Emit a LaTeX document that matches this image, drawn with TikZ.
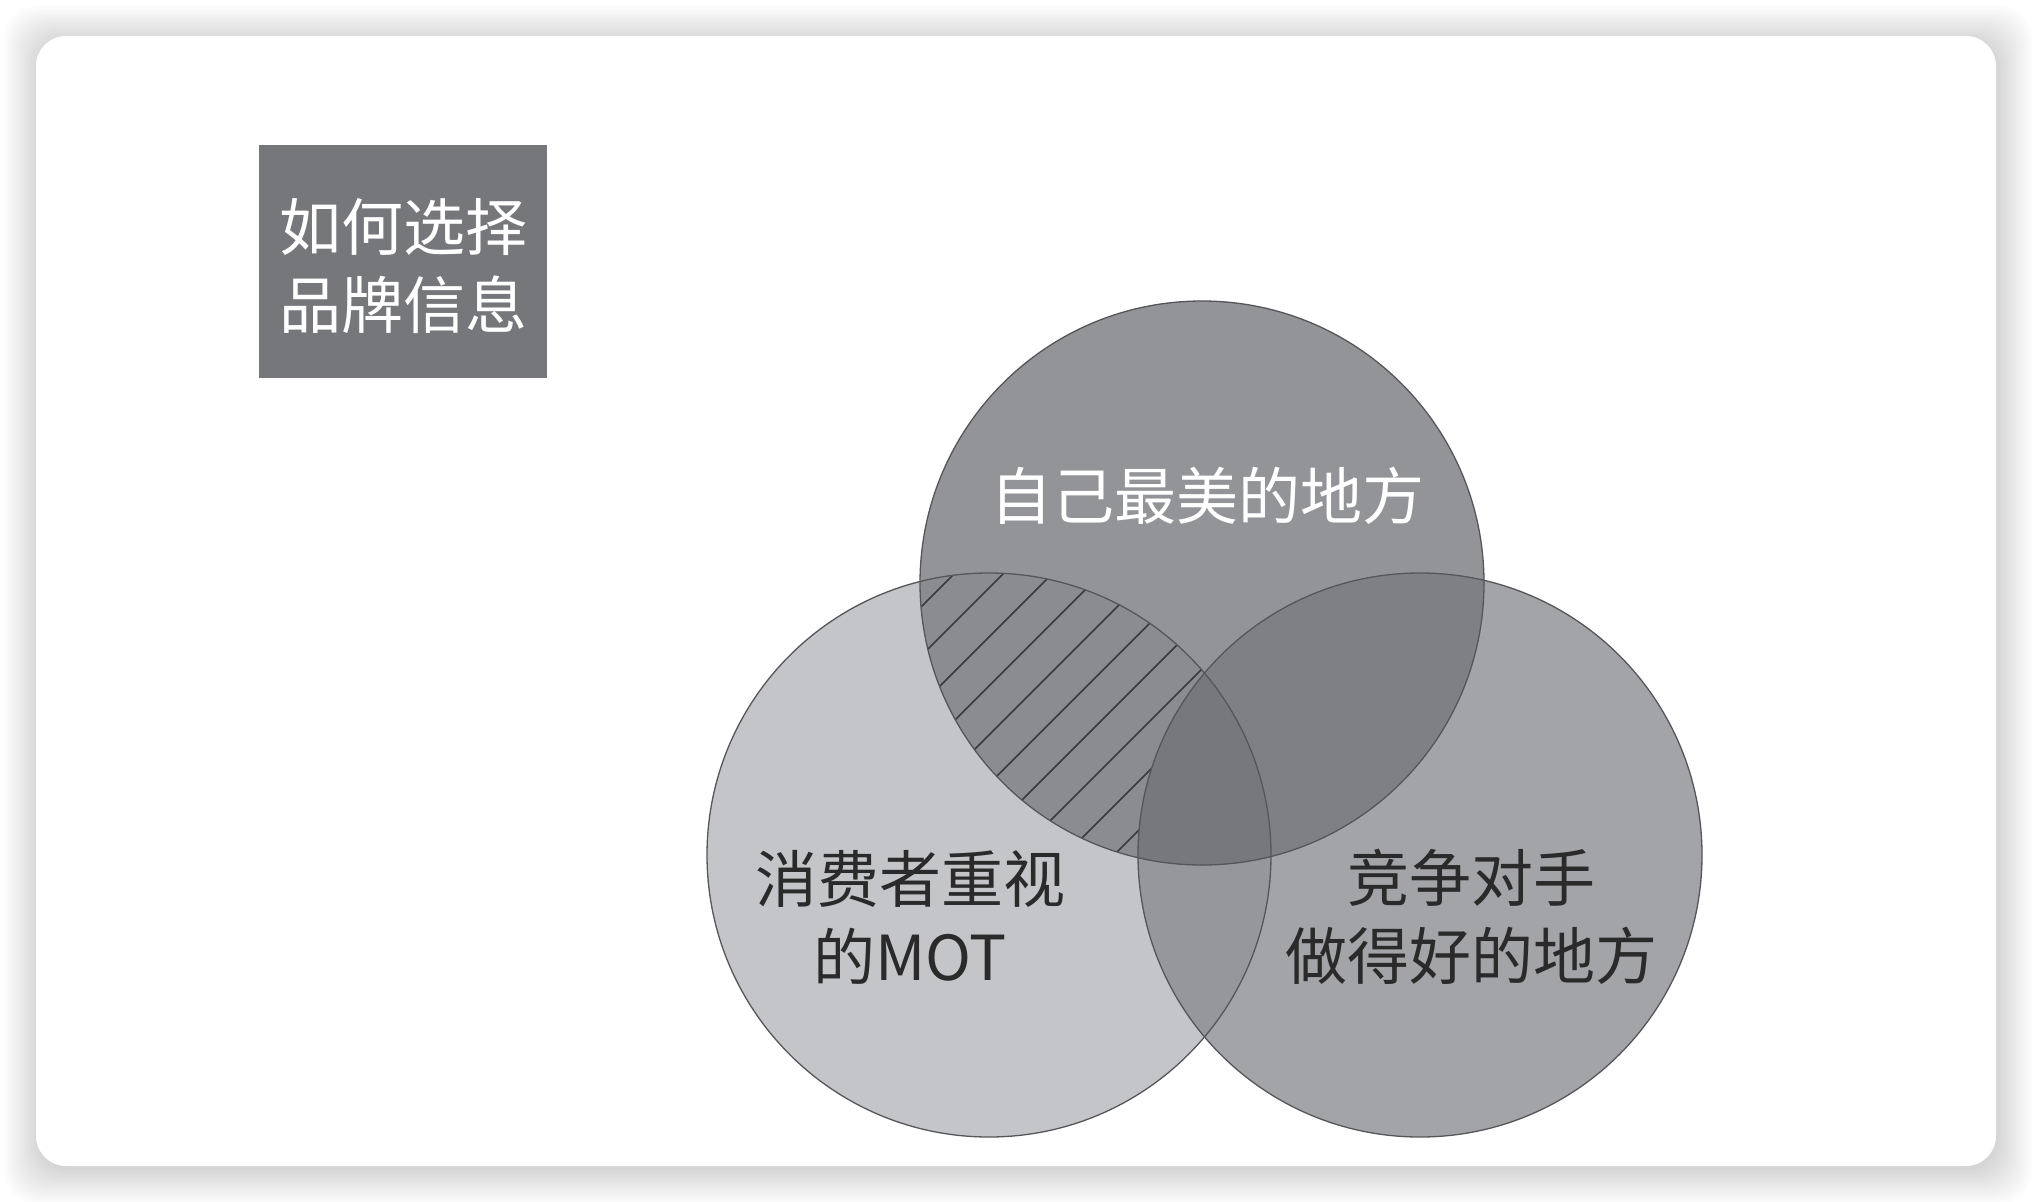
\documentclass[tikz,border=0pt]{standalone}
\usepackage{fontspec}
\newfontfamily\cjk{Noto Sans CJK SC}
\definecolor{cL}{HTML}{C3C5C8}
\definecolor{cR}{HTML}{A3A4A8}
\definecolor{cT}{HTML}{939498}
\definecolor{cLR}{HTML}{96979B}
\definecolor{cTR}{HTML}{7F8084}
\definecolor{cTL}{HTML}{8B8C90}
\definecolor{cTLR}{HTML}{77787C}
\definecolor{boxc}{HTML}{76777B}
\definecolor{hatchc}{HTML}{3A3A3C}
\definecolor{outc}{HTML}{55565A}
\definecolor{darktxt}{HTML}{2A2A2A}
\tikzset{
  hatchline/.style={draw=hatchc, line width=1.6pt},
  outline/.style={draw=outc, line width=1.3pt},
  wtxt/.style={text=white, font=\cjk\fontsize{62}{78}\selectfont, align=center, inner sep=0pt},
  dtxt/.style={text=darktxt, font=\cjk\fontsize{62}{78}\selectfont, align=center, inner sep=0pt},
  titlebox/.style={fill=boxc, minimum width=288pt, minimum height=233pt, inner sep=0pt},
}
\begin{document}
\begin{tikzpicture}[x=1pt,y=-1pt]
\useasboundingbox (0,0) rectangle (2032,1202);
\fill[white] (0,0) rectangle (2032,1202);
% card shadow
\foreach \k in {0,...,13} {
  \pgfmathsetmacro\e{2.6*\k}
  \fill[black, opacity=0.013, rounded corners=32pt] (36-\e+2, 36-\e+4) rectangle (1996+\e+2, 1166+\e+4);
}
% card
\fill[white, rounded corners=30pt] (36,36) rectangle (1996,1166);
% title box
\node[titlebox] (title) at (403,261.5) {};
\node[wtxt] (titletext) at (403,266) {如何选择\\品牌信息};
% circles
\coordinate (ct) at (1202,583);
\coordinate (cl) at (989,855);
\coordinate (cr) at (1420,855);
\fill[cL] (cl) circle (282pt);
\fill[cR] (cr) circle (282pt);
\fill[cT] (ct) circle (282pt);
\begin{scope}
  \clip (cl) circle (282pt);
  \fill[cLR] (cr) circle (282pt);
\end{scope}
\begin{scope}
  \clip (ct) circle (282pt);
  \fill[cTR] (cr) circle (282pt);
\end{scope}
\begin{scope}
  \clip (ct) circle (282pt);
  \fill[cTL] (cl) circle (282pt);
  \clip (cl) circle (282pt);
  \foreach \i in {-8,...,10} {
    \draw[hatchline] (937+49*\i-450, 640+450) -- (937+49*\i+450, 640-450);
  }
\end{scope}
\begin{scope}
  \clip (ct) circle (282pt);
  \clip (cl) circle (282pt);
  \fill[cTLR] (cr) circle (282pt);
\end{scope}
\draw[outline] (cl) circle (282pt);
\draw[outline] (cr) circle (282pt);
\draw[outline] (ct) circle (282pt);
% labels
\node[wtxt] (toptext) at (1207,496) {自己最美的地方};
\node[dtxt] (lefttext) at (910,917) {消费者重视\\的MOT};
\node[dtxt] (righttext) at (1471,917) {竞争对手\\做得好的地方};
\end{tikzpicture}
\end{document}
